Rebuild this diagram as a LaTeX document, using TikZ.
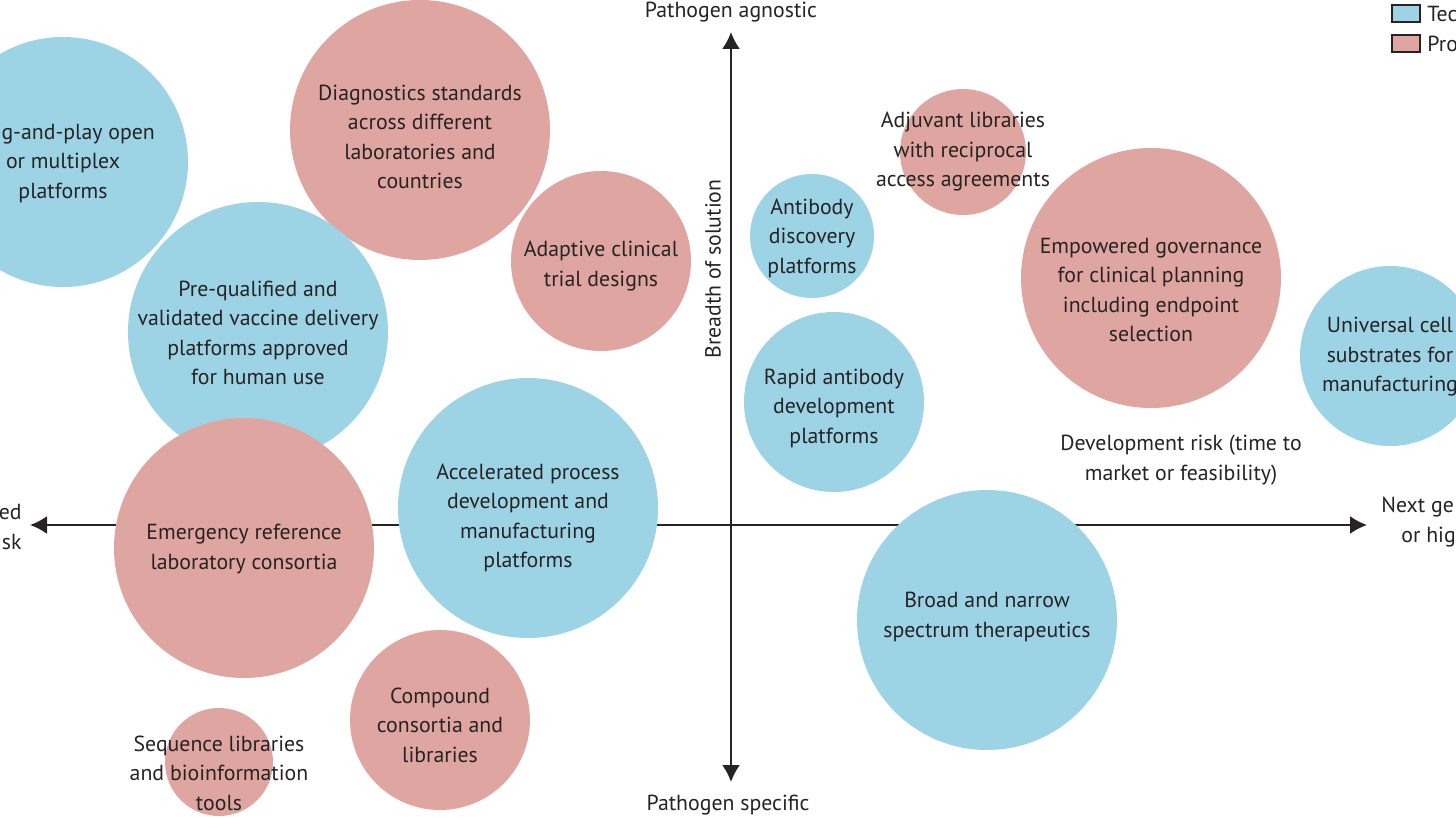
\documentclass[tikz,border=0pt]{standalone}
\usepackage{fontspec}
\setmainfont{PT Sans}
\usetikzlibrary{arrows.meta, backgrounds}

\definecolor{techblue}{HTML}{9DD4E5}
\definecolor{progpink}{HTML}{DFA6A1}
\definecolor{inkgray}{HTML}{262324}

\begin{document}
\begin{tikzpicture}[
    x=0.5pt, y=-0.5pt,
    font=\fontsize{10.9}{14.75}\selectfont,
    text=inkgray,
    tech/.style={
        circle,
        fill=techblue,
        inner sep=0pt,
        minimum size=#1pt
    },
    prog/.style={
        circle,
        fill=progpink,
        inner sep=0pt,
        minimum size=#1pt
    },
    txt/.style={
        align=center,
        inner sep=0pt
    },
    axis/.style={
        {Latex[length=8.5pt,width=9pt]}-{Latex[length=8.5pt,width=9pt]},
        line width=1pt,
        draw=inkgray
    },
    keybox/.style={
        draw=inkgray,
        line width=0.8pt,
        minimum width=14pt,
        minimum height=8.5pt,
        inner sep=0pt
    }
]

\useasboundingbox (0,0) rectangle (1456,818);
\clip (0,0) rectangle (1456,818);

% --- AXES -----------------------------------------------------

\coordinate (W) at (30,525);
\coordinate (E) at (1367,525);
\coordinate (N) at (731,32);
\coordinate (S) at (731,782);

\begin{scope}[on background layer]
    \draw[axis] (W) -- (E);
    \draw[axis] (N) -- (S);
\end{scope}

% --- BUBBLES --------------------------------------------------

\node[tech=125] (plug) at (63,162) {};
\node[prog=130] (diag) at (420,130) {};
\node[prog=90]  (adapt) at (601,261) {};
\node[tech=130] (prequal) at (258,332) {};
\node[prog=130] (emerg) at (244,548) {};
\node[tech=130] (accel) at (528,508) {};
\node[prog=90]  (compound) at (440,720) {};
\node[prog=54]  (seq) at (219,762) {};
\node[tech=62]  (abdisc) at (812,236) {};
\node[tech=90]  (rapid) at (834,402) {};
\node[prog=63]  (adjuv) at (963,152) {};
\node[prog=130] (govern) at (1151,278) {};
\node[tech=90]  (cell) at (1390,356) {};
\node[tech=130] (broad) at (987,620) {};

% --- BUBBLE TEXTS ---------------------------------------------

\node[txt] at (63,163) {\phantom{Plu}g-and-play open\\or multiplex\\platforms};
\node[txt] at (420,137) {Diagnostics standards\\across different\\laboratories and\\countries};
\node[txt] at (601,266) {Adaptive clinical\\trial designs};
\node[txt] at (258,333) {Pre-qualified and\\validated vaccine delivery\\platforms approved\\for human use};
\node[txt] at (244,549) {Emergency reference\\laboratory consortia};
\node[txt] at (528,518) {Accelerated process\\development and\\manufacturing\\platforms};
\node[txt] at (440,725) {Compound\\consortia and\\libraries};
\node[txt] at (219,773) {Sequence libraries\\and bioinformation\\tools};
\node[txt] at (812,238) {Antibody\\discovery\\platforms};
\node[txt] at (834,408) {Rapid antibody\\development\\platforms};
\node[txt] at (963,152) {Adjuvant libraries\\with reciprocal\\access agreements};
\node[txt] at (1151,290) {Empowered governance\\for clinical planning\\including endpoint\\selection};
\node[txt] at (1390,357) {Universal cell\\substrates for\\manufacturing};
\node[txt] at (987,617) {Broad and narrow\\spectrum therapeutics};

% --- AXIS LABELS ----------------------------------------------

\node[txt] (agn) at (731,12) {Pathogen agnostic};
\node[txt] (spec) at (728,805) {Pathogen specific};
\node[txt, rotate=90] (breadth) at (713,269) {Breadth of solution};
\node[txt] (devrisk) at (1181,460) {Development risk (time to\\market or feasibility)};
\node[txt, align=right, anchor=east] (lowrisk) at (22,527) {ed\\sk};
\node[txt, align=left, anchor=west] (highrisk) at (1381,522) {Next ge\\\hspace*{10pt}or hig};

% --- LEGEND ---------------------------------------------------

\node[keybox, fill=techblue] (keytech) at (1406,13.5) {};
\node[keybox, fill=progpink] (keyprog) at (1406,43.5) {};
\node[txt, anchor=west] at (1427,14) {Tec};
\node[txt, anchor=west] at (1427,44) {Pro};

\end{tikzpicture}
\end{document}
